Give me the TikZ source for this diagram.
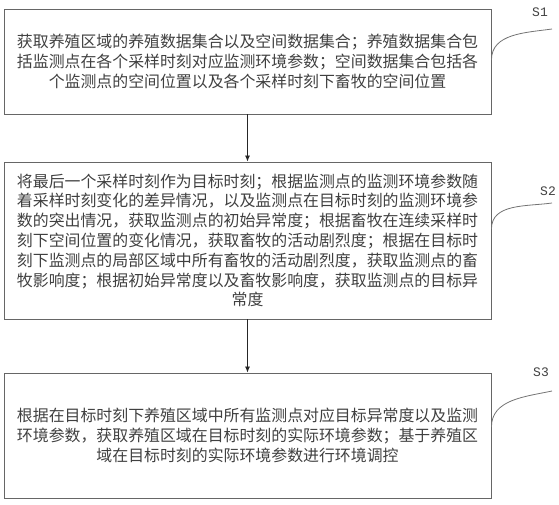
\documentclass[tikz,border=0pt]{standalone}
\usepackage{fontspec}
\setmainfont{Noto Sans CJK SC}
\newfontfamily\labelfont{Liberation Mono}
\usetikzlibrary{arrows.meta}
\tikzset{
  stepbox/.style={draw=black!60, line width=0.9pt, minimum width=487pt, inner sep=0pt,
    align=center, text=black!75, font=\fontsize{15.9}{19.8}\selectfont},
  leader/.style={draw=black!55, line width=0.8pt},
  steplabel/.style={text=black!75, font=\labelfont\fontsize{13}{13}\selectfont},
  flow/.style={-{Latex[length=6pt,width=5pt]}, line width=0.8pt, black!85}
}
\begin{document}
\begin{tikzpicture}[x=1pt,y=-1pt]
      \useasboundingbox (0,0) rectangle (559,505);
      \node[stepbox, minimum height=105pt] (s1) at (247.5,61.5)
        {获取养殖区域的养殖数据集合以及空间数据集合；养殖数据集合包\\
         括监测点在各个采样时刻对应监测环境参数；空间数据集合包括各\\
         个监测点的空间位置以及各个采样时刻下畜牧的空间位置};
      \node[stepbox, minimum height=157pt] (s2) at (247.5,240.5)
        {将最后一个采样时刻作为目标时刻；根据监测点的监测环境参数随\\
         着采样时刻变化的差异情况，以及监测点在目标时刻的监测环境参\\
         数的突出情况，获取监测点的初始异常度；根据畜牧在连续采样时\\
         刻下空间位置的变化情况，获取畜牧的活动剧烈度；根据在目标时\\
         刻下监测点的局部区域中所有畜牧的活动剧烈度，获取监测点的畜\\
         牧影响度；根据初始异常度以及畜牧影响度，获取监测点的目标异\\
         常度};
      \node[stepbox, minimum height=125pt] (s3) at (247.5,435.5)
        {根据在目标时刻下养殖区域中所有监测点对应目标异常度以及监测\\
         环境参数，获取养殖区域在目标时刻的实际环境参数；基于养殖区\\
         域在目标时刻的实际环境参数进行环境调控};
      % step labels
      \node[steplabel] (l1) at (540,12) {S1};
      \node[steplabel] (l2) at (548,191) {S2};
      \node[steplabel] (l3) at (541,372) {S3};
      \coordinate (e1) at (552,29);
      \coordinate (e2) at (552,203);
      \coordinate (e3) at (552,391);
      \begin{scope}[flow]
        \draw (s1) to (s2);
        \draw (s2) to (s3);
      \end{scope}
      \begin{scope}[leader]
        \draw ([yshift=1.5pt]s1.east) to[out=90,in=188] (e1);
        \draw ([yshift=11.5pt]s2.east) to[out=90,in=188] (e2);
        \draw ([yshift=8.5pt]s3.east) to[out=90,in=192] (e3);
      \end{scope}
    \end{tikzpicture}
\end{document}
